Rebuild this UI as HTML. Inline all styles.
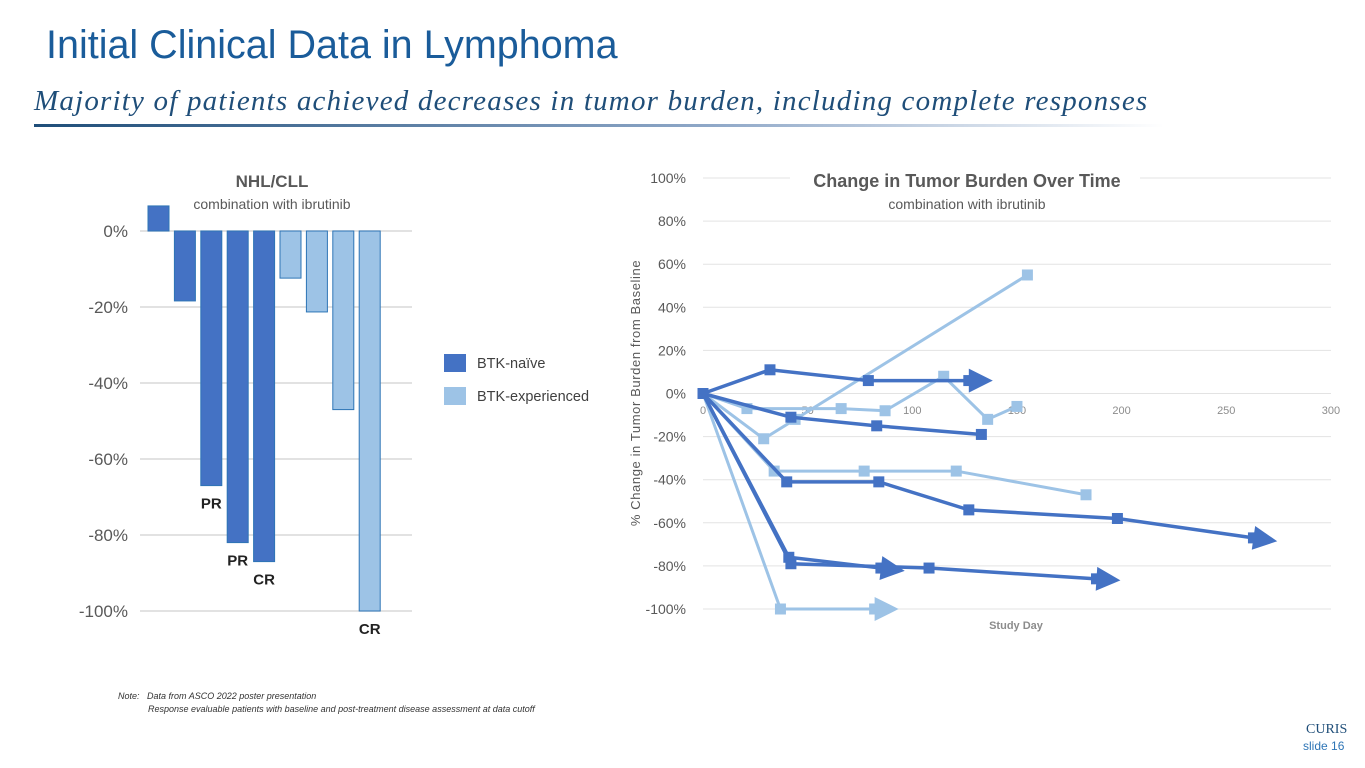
<!DOCTYPE html>
<html><head><meta charset="utf-8"><style>
body{margin:0;width:1365px;height:768px;background:#fff;overflow:hidden;font-family:"Liberation Sans",sans-serif;position:relative}
.abs{position:absolute}
</style></head><body>
<div class="abs" style="left:46px;top:23px;font-size:39.5px;color:#1a5c9a">Initial Clinical Data in Lymphoma</div>
<div class="abs" style="left:34px;top:85px;font-family:'Liberation Serif',serif;font-style:italic;font-size:29px;letter-spacing:1.2px;color:#1f4e79;white-space:nowrap">Majority of patients achieved decreases in tumor burden, including complete responses</div>
<div class="abs" style="left:34px;top:124px;width:1130px;height:3px;background:linear-gradient(90deg,#1f4e79,#8fa8c8 60%,#fff)"></div>
<svg class="abs" style="left:0;top:0" width="1365" height="768" id="svg"></svg>
<div class="abs" style="left:118px;top:690px;font-size:9px;font-style:italic;color:#333;line-height:13px">Note:&nbsp;&nbsp; Data from ASCO 2022 poster presentation<br>&nbsp;&nbsp;&nbsp;&nbsp;&nbsp;&nbsp;&nbsp;&nbsp;&nbsp;&nbsp;&nbsp; Response evaluable patients with baseline and post-treatment disease assessment at data cutoff</div>
<div class="abs" style="left:1306px;top:722px;font-family:'Liberation Serif',serif;font-size:14px;color:#1f4e79;letter-spacing:0px">CURIS</div>
<div class="abs" style="left:1303px;top:739px;font-size:12px;color:#2e75b6">slide 16</div>
<script>
const barValues=[6.6,-18.4,-67,-82,-87,-12.4,-21.3,-47,-100];
const barGroups=["naive","naive","naive","naive","naive","exp","exp","exp","exp"];
const barLabels=["","","PR","PR","CR","","","","CR"];
const barTicks=[0,-20,-40,-60,-80,-100];
const lineTicksY=[100,80,60,40,20,0,-20,-40,-60,-80,-100];
const lineTicksX=[0,50,100,150,200,250,300];
const seriesX=[[0,32,79,127],[0,42,83,133],[0,40,84,127,198,263],[0,41,85],[0,42,108,188],[0,29,44,155],[0,21,66,87,115,136,150],[0,34,77,121,183],[0,37,82]];
const seriesY=[[0,11,6,6],[0,-11,-15,-19],[0,-41,-41,-54,-58,-67],[0,-76,-81],[0,-79,-81,-86],[0,-21,-12,55],[0,-7,-7,-8,8,-12,-6],[0,-36,-36,-36,-47],[0,-100,-100]];
const seriesType=["d","d","d","d","d","l","l","l","l"];
const seriesArrow=[1,0,1,1,1,0,0,0,1];
const DARK="#4472c4",LIGHT="#9dc3e6";
const svg=document.getElementById('svg');
function el(t,a,txt){const e=document.createElementNS('http://www.w3.org/2000/svg',t);for(const k in a)e.setAttribute(k,a[k]);if(txt!=null)e.textContent=txt;svg.appendChild(e);return e;}
// bar chart
const by=v=>231-v*3.8, bx=i=>148+i*26.4;
barTicks.forEach(t=>{const g=el('line',{x1:140,x2:412,y1:by(t),y2:by(t),stroke:'#d9d9d9','stroke-width':1.5});

const l=el('text',{x:128,y:by(t)+6,'text-anchor':'end','font-size':17,fill:'#595959'},t+'%');
});
barValues.forEach((v,i)=>{const c=barGroups[i]=="naive"?DARK:LIGHT;
const r=el('rect',{x:bx(i),y:Math.min(by(v),by(0)),width:21,height:Math.abs(by(v)-by(0)),fill:c,stroke:'#2e75b6','stroke-width':1});

if(barLabels[i]){const t=el('text',{x:bx(i)+10.5,y:by(v)+23,'text-anchor':'middle','font-size':15,'font-weight':'bold',fill:'#222'},barLabels[i]);
}});
let t1=el('text',{x:272,y:187,'text-anchor':'middle','font-size':17,'font-weight':'bold',fill:'#595959'},'NHL/CLL');
let t2=el('text',{x:272,y:209,'text-anchor':'middle','font-size':14,fill:'#595959'},'combination with ibrutinib');
[[DARK,'BTK-naïve',354],[LIGHT,'BTK-experienced',387]].forEach(([c,n,y])=>{const r=el('rect',{x:444,y:y,width:22,height:18,fill:c});
const t=el('text',{x:477,y:y+14,'font-size':14.5,fill:'#404040'},n);});
// line chart
const lx=d=>703+d*2.093, ly=v=>393.5-v*2.155;
lineTicksY.forEach(t=>{const g=el('line',{x1:703,x2:1331,y1:ly(t),y2:ly(t),stroke:'#e3e3e3','stroke-width':1});
const l=el('text',{x:686,y:ly(t)+5,'text-anchor':'end','font-size':14,fill:'#595959'},t+'%');});
lineTicksX.forEach(t=>{const l=el('text',{x:lx(t),y:414,'text-anchor':'middle','font-size':11,fill:'#8c8c8c'},t);});
let ya=el('text',{transform:'translate(640,393) rotate(-90)','text-anchor':'middle','font-size':13,fill:'#595959','letter-spacing':'0.6'},'% Change in Tumor Burden from Baseline');
let xa=el('text',{x:1016,y:629,'text-anchor':'middle','font-size':11,'font-weight':'bold',fill:'#8c8c8c'},'Study Day');
const tb=el('rect',{x:790,y:168,width:350,height:24,fill:'#fff'});
let t3=el('text',{x:967,y:187,'text-anchor':'middle','font-size':18,'font-weight':'bold',fill:'#595959'},'Change in Tumor Burden Over Time');
let t4=el('text',{x:967,y:209,'text-anchor':'middle','font-size':14,fill:'#595959'},'combination with ibrutinib');
const order=[5,6,7,8,0,1,2,3,4];
order.forEach(s=>{const c=seriesType[s]=="d"?DARK:LIGHT;const xs=seriesX[s],ys=seriesY[s];
const pts=xs.map((x,i)=>lx(x)+','+ly(ys[i])).join(' ');
const p=el('polyline',{points:pts,fill:'none',stroke:c,'stroke-width':seriesType[s]=="d"?3.5:3});
xs.forEach((x,i)=>{const m=el('rect',{x:lx(x)-5.5,y:ly(ys[i])-5.5,width:11,height:11,fill:c});});
if(seriesArrow[s]){const n=xs.length-1;const X=lx(xs[n]),Y=ly(ys[n]);const a=Math.atan2(Y-ly(ys[n-1]),X-lx(xs[n-1]));
const ca=Math.cos(a),sa=Math.sin(a);const tip=[X+24*ca,Y+24*sa];
const p1=[X+12*sa,Y-12*ca],p2=[X-12*sa,Y+12*ca];
const ar=el('polygon',{points:[tip,p1,p2].map(q=>q.join(',')).join(' '),fill:c});}});
</script>
</body></html>
